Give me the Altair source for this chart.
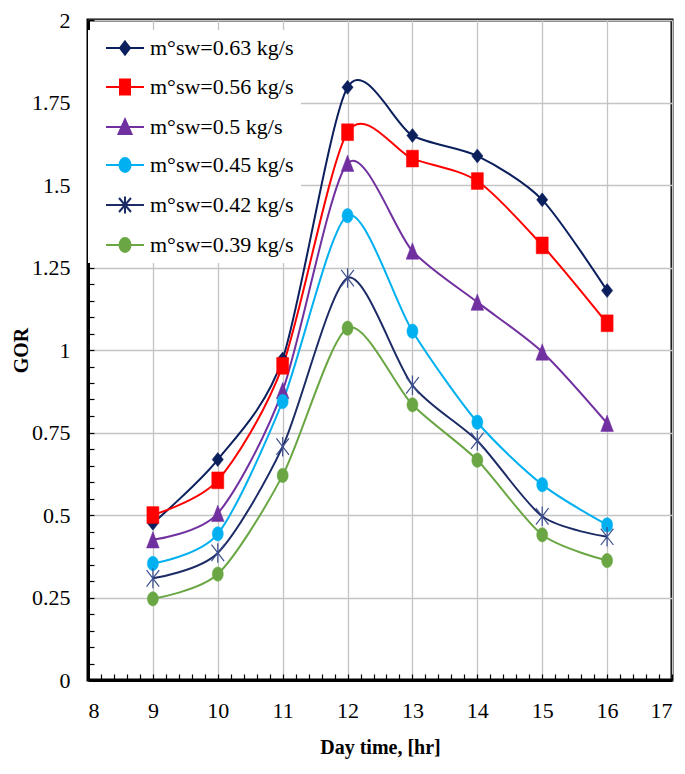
import altair as alt
import pandas as pd

# ---------------- data ----------------
hours = [9, 10, 11, 12, 13, 14, 15, 16]
series_labels = [
    "m°sw=0.63 kg/s",
    "m°sw=0.56 kg/s",
    "m°sw=0.5 kg/s",
    "m°sw=0.45 kg/s",
    "m°sw=0.42 kg/s",
    "m°sw=0.39 kg/s",
]
gor_063 = [0.475, 0.668, 0.973, 1.796, 1.650, 1.588, 1.455, 1.180]
gor_056 = [0.500, 0.605, 0.952, 1.660, 1.580, 1.512, 1.317, 1.081]
gor_050 = [0.425, 0.505, 0.877, 1.566, 1.300, 1.145, 0.994, 0.778]
gor_045 = [0.353, 0.443, 0.844, 1.407, 1.057, 0.781, 0.592, 0.470]
gor_042 = [0.308, 0.385, 0.707, 1.218, 0.893, 0.725, 0.496, 0.434]
gor_039 = [0.246, 0.321, 0.620, 1.066, 0.834, 0.666, 0.440, 0.362]
all_gor = [gor_063, gor_056, gor_050, gor_045, gor_042, gor_039]

# axis ticks: labelled majors plus unlabelled minor steps
x_ticks = [round(8 + 0.2 * i, 2) for i in range(0, 46)]      # 8 .. 17 every 0.2
y_ticks = [round(0.05 * i, 2) for i in range(0, 41)]          # 0 .. 2 every 0.05

line_colors = ["#0a1f5c", "#ff0000", "#7030a0", "#00b0f0", "#1c2b66", "#6aa744"]
marker_colors = ["#0a1f5c", "#ff0000", "#7030a0", "#00b0f0", "#3d508f", "#6aa744"]

# marker outlines (unit box, slightly taller than wide like the original)
marker_paths = [
    "M0,-1.25L1,0L0,1.25L-1,0Z",
    "M-1,-1.4H1V1.4H-1Z",
    "M0,-1.3L1,1.3L-1,1.3Z",
    "M-1,0A1,1.3 0 1,0 1,0A1,1.3 0 1,0 -1,0Z",
    "M-1,-1.3L1,1.3M-1,1.3L1,-1.3M0,-1.55V1.55",
    "M-1,0A1,1.3 0 1,0 1,0A1,1.3 0 1,0 -1,0Z",
]
marker_sizes = [125, 144, 160, 121, 160, 121]
marker_filled = [True, True, True, True, False, True]

# legend symbols: short line with the marker in its middle
legend_paths = [
    "M0,0H7.6M3.8,-1.3L4.8,0L3.8,1.3L2.8,0Z",
    "M0,0H7.6M2.8,-1.5H4.8V1.5H2.8Z",
    "M0,0H7.6M3.8,-1.5L5.1,1.4L2.5,1.4Z",
    "M0,0H7.6M2.7,0A1.1,1.4 0 1,0 4.9,0A1.1,1.4 0 1,0 2.7,0Z",
    "M0,0H7.6M2.6,-1.4L5,1.4M2.6,1.4L5,-1.4M3.8,-1.7V1.7",
    "M0,0H7.6M2.7,0A1.1,1.4 0 1,0 4.9,0A1.1,1.4 0 1,0 2.7,0Z",
]

rows = []
for name, vals in zip(series_labels, all_gor):
    for h, v in zip(hours, vals):
        rows.append({"hour": h, "gor": v, "series": name})
df = pd.DataFrame(rows)

FONT = "Liberation Serif, Times New Roman, DejaVu Serif, serif"
xscale = alt.Scale(domain=[8, 17], nice=False, zero=False)
yscale = alt.Scale(domain=[0, 2], nice=False, zero=True)

x_major = "abs(datum.value - round(datum.value)) < 0.001"
y_major = "abs(datum.value * 4 - round(datum.value * 4)) < 0.001"

main_x_axis = alt.Axis(
    orient="bottom", values=x_ticks, format=".4~g", grid=True, gridColor="#c4c4c4", gridWidth=1.3,
    gridOpacity={"condition": {"test": x_major, "value": 1}, "value": 0},
    ticks=True, tickColor="black", tickWidth=1.2, tickSize=alt.ExprRef(expr="-6"),
    domainColor="black", domainWidth=3, labelOverlap=False,
    labelExpr=f"{x_major} ? datum.label : ''",
    labelFont=FONT, labelFontSize=22, labelColor="black", labelPadding=26,
    title="Day time, [hr]", titleFont=FONT, titleFontSize=20, titleFontWeight="bold",
    titleColor="black", titlePadding=16,
)
main_y_axis = alt.Axis(
    orient="left", values=y_ticks, format=".4~g", grid=True, gridColor="#c4c4c4", gridWidth=1.3,
    gridOpacity={"condition": {"test": y_major, "value": 1}, "value": 0},
    ticks=True, tickColor="black", tickWidth=1.2, tickSize=alt.ExprRef(expr="-6"),
    domainColor="black", domainWidth=3, labelOverlap=False,
    labelExpr=f"{y_major} ? datum.label : ''",
    labelFont=FONT, labelFontSize=22, labelColor="black", labelPadding=24,
    title="GOR", titleFont=FONT, titleFontSize=20, titleFontWeight="bold",
    titleColor="black", titlePadding=0,
)

base = alt.Chart(df)
layers = []
for i, name in enumerate(series_labels):
    sub = base.transform_filter(alt.datum.series == name)
    enc = dict(
        x=alt.X("hour:Q", scale=xscale, axis=main_x_axis if i == 0 else None),
        y=alt.Y("gor:Q", scale=yscale, axis=main_y_axis if i == 0 else None),
    )
    layers.append(
        sub.mark_line(interpolate="cardinal", tension=0.2, color=line_colors[i], strokeWidth=2).encode(**enc)
    )
for i, name in enumerate(series_labels):
    sub = base.transform_filter(alt.datum.series == name)
    enc = dict(
        x=alt.X("hour:Q", scale=xscale, axis=None),
        y=alt.Y("gor:Q", scale=yscale, axis=None),
    )
    if marker_filled[i]:
        mk = sub.mark_point(shape=marker_paths[i], size=marker_sizes[i], filled=True,
                            fill=marker_colors[i], stroke=marker_colors[i], strokeWidth=0.5,
                            opacity=1)
    else:
        mk = sub.mark_point(shape=marker_paths[i], size=marker_sizes[i], filled=False,
                            stroke=marker_colors[i], strokeWidth=1.2, opacity=1)
    layers.append(mk.encode(**enc))

leg = alt.Legend(
    orient="none", legendX=0, legendY=10, padding=7, fillColor="white",
    title=None, labelFont=FONT, labelFontSize=22, labelColor="black", labelLimit=0,
    symbolSize=100, symbolStrokeWidth=2, labelOffset=33, rowPadding=16,
)
legend_layer = base.transform_filter("datum.hour > 100").mark_point(
    filled=True, opacity=1, strokeWidth=2
).encode(
    x=alt.X("hour:Q", scale=xscale, axis=None),
    y=alt.Y("gor:Q", scale=yscale, axis=None),
    fill=alt.Fill("series:N", scale=alt.Scale(domain=series_labels, range=line_colors), legend=leg),
    stroke=alt.Stroke("series:N", scale=alt.Scale(domain=series_labels, range=line_colors), legend=leg),
    shape=alt.Shape("series:N", scale=alt.Scale(domain=series_labels, range=legend_paths), legend=leg),
)
layers.append(legend_layer)

chart = (
    alt.layer(*layers)
    .resolve_axis(x="independent", y="independent")
    .properties(
        width=584, height=660,
        autosize=alt.AutoSizeParams(type="none"),
        padding={"left": 80, "top": 12, "right": 5, "bottom": 90},
        background="white",
    )
    .configure_view(stroke="black", strokeWidth=3)
)

chart.save("out.html", embed_options={"renderer": "svg", "actions": False})
